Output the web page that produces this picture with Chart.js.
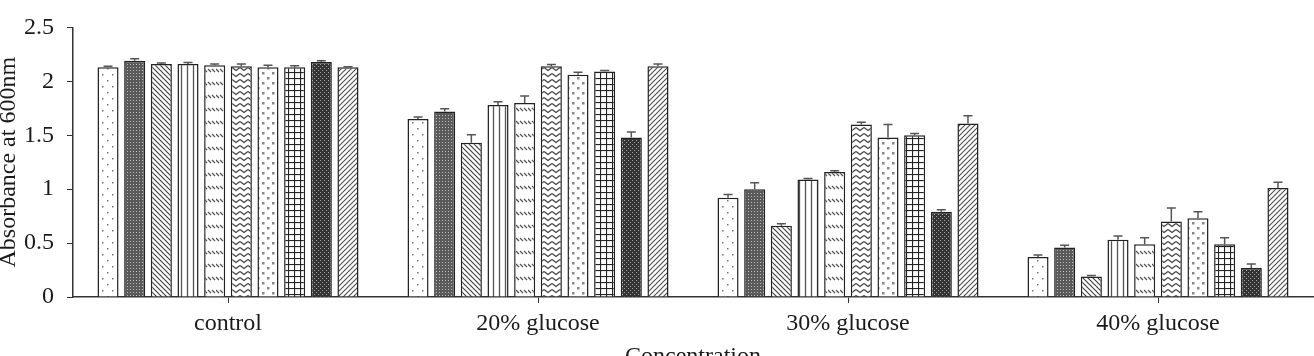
<!DOCTYPE html>
<html>
<head>
<meta charset="utf-8">
<script src="https://cdn.jsdelivr.net/npm/chart.js@4"></script>
<style>
  html, body { margin: 0; padding: 0; background: #fff; }
  #wrap { width: 1314px; height: 356px; position: relative; }
</style>
</head>
<body>
<div id="wrap"><canvas id="chart"></canvas></div>
<script>
// categories on the x axis
const categories = ['control', '20% glucose', '30% glucose', '40% glucose'];

// absorbance values, one array per bar series
const s1 = [2.13, 1.65, 0.92, 0.37];
const s2 = [2.19, 1.72, 1.00, 0.46];
const s3 = [2.16, 1.43, 0.66, 0.19];
const s4 = [2.16, 1.78, 1.09, 0.53];
const s5 = [2.15, 1.80, 1.16, 0.49];
const s6 = [2.14, 2.14, 1.60, 0.70];
const s7 = [2.13, 2.06, 1.48, 0.73];
const s8 = [2.13, 2.09, 1.50, 0.49];
const s9 = [2.18, 1.48, 0.79, 0.27];
const s10 = [2.13, 2.14, 1.61, 1.01];

// error bar sizes (upper only)
const e1 = [0.01, 0.02, 0.03, 0.02];
const e2 = [0.02, 0.025, 0.06, 0.02];
const e3 = [0.01, 0.075, 0.02, 0.01];
const e4 = [0.015, 0.03, 0.01, 0.035];
const e5 = [0.01, 0.065, 0.01, 0.06];
const e6 = [0.02, 0.015, 0.02, 0.125];
const e7 = [0.02, 0.025, 0.12, 0.06];
const e8 = [0.015, 0.01, 0.015, 0.06];
const e9 = [0.01, 0.05, 0.02, 0.035];
const e10 = [0.005, 0.02, 0.07, 0.055];

const yTicks = [0, 0.5, 1, 1.5, 2, 2.5];

const values = [s1, s2, s3, s4, s5, s6, s7, s8, s9, s10];
const errors = [e1, e2, e3, e4, e5, e6, e7, e8, e9, e10];

// small tile helpers for the hatch fills
function tile(w, h, draw) {
  const c = document.createElement('canvas');
  c.width = w; c.height = h;
  const g = c.getContext('2d');
  g.fillStyle = '#fff';
  g.fillRect(0, 0, w, h);
  draw(g, w, h);
  return g.createPattern(c, 'repeat');
}
function line(g, pts, color, lw) {
  g.strokeStyle = color; g.lineWidth = lw;
  g.beginPath();
  g.moveTo(pts[0], pts[1]);
  for (let i = 2; i < pts.length; i += 2) g.lineTo(pts[i], pts[i + 1]);
  g.stroke();
}

const patterns = [
  // sparse dots
  tile(10, 12, (g) => { g.fillStyle = '#777'; g.fillRect(2, 2, 1.5, 1.5); g.fillRect(7, 8, 1.5, 1.5); }),
  // dark fine grid
  tile(3, 3, (g) => { g.fillStyle = '#5a5a5a'; g.fillRect(0, 0, 3, 3); g.fillStyle = '#bbb'; g.fillRect(1, 1, 1, 1); }),
  // backslash lines
  tile(5, 5, (g) => { line(g, [-1, -1, 6, 6], '#444', 1.2); line(g, [-1, 4, 1, 6], '#444', 1.2); line(g, [4, -1, 6, 1], '#444', 1.2); }),
  // vertical lines
  tile(6, 4, (g) => { line(g, [1.5, 0, 1.5, 4], '#555', 1.3); }),
  // short dashed diagonals in rows
  tile(12, 13, (g) => {
    line(g, [0, 4, 3, 7], '#555', 1.3); line(g, [4, 4, 7, 7], '#555', 1.3); line(g, [8, 4, 11, 7], '#555', 1.3);
  }),
  // horizontal waves
  tile(8, 6, (g) => { line(g, [0, 1.5, 4, 4.5, 8, 1.5], '#444', 1.3); }),
  // bubbles
  tile(10, 10, (g) => { g.fillStyle = '#888'; g.fillRect(2, 2, 2.5, 2.5); g.fillRect(7, 7, 2.5, 2.5); }),
  // grid
  tile(6, 6, (g) => { line(g, [0.5, 0, 0.5, 6], '#222', 1.2); line(g, [0, 0.5, 6, 0.5], '#222', 1.2); }),
  // dark trellis
  tile(4, 4, (g) => { g.fillStyle = '#333'; g.fillRect(0, 0, 4, 4); g.fillStyle = '#aaa'; g.fillRect(0, 0, 1, 1); g.fillRect(2, 2, 1, 1); }),
  // forward slash lines
  tile(5, 5, (g) => { line(g, [-1, 6, 6, -1], '#555', 1.2); line(g, [-1, 1, 1, -1], '#555', 1.2); line(g, [4, 6, 6, 4], '#555', 1.2); })
];

const datasets = values.map((v, i) => ({
  label: 'Series ' + (i + 1),
  data: v,
  err: errors[i],
  backgroundColor: patterns[i],
  borderColor: '#222',
  borderWidth: 1.5,
  barPercentage: 0.79,
  categoryPercentage: 0.86
}));

const errorBars = {
  id: 'errorBars',
  afterDatasetsDraw(chart) {
    const ctx = chart.ctx;
    const y = chart.scales.y;
    ctx.save();
    ctx.strokeStyle = '#555';
    ctx.lineWidth = 1.5;
    chart.data.datasets.forEach((ds, i) => {
      const meta = chart.getDatasetMeta(i);
      meta.data.forEach((bar, j) => {
        const top = y.getPixelForValue(ds.data[j] + ds.err[j]);
        ctx.beginPath();
        ctx.moveTo(bar.x, bar.y);
        ctx.lineTo(bar.x, top);
        ctx.moveTo(bar.x - 4.5, top);
        ctx.lineTo(bar.x + 4.5, top);
        ctx.stroke();
      });
    });
    ctx.restore();
  }
};

const serif = 'Liberation Serif';

new Chart(document.getElementById('chart'), {
  type: 'bar',
  data: { labels: categories, datasets: datasets },
  plugins: [errorBars],
  options: {
    responsive: true,
    maintainAspectRatio: false,
    animation: false,
    layout: { padding: { top: 23, right: 1, left: 0, bottom: 0 } },
    plugins: { legend: { display: false }, tooltip: { enabled: false } },
    scales: {
      x: {
        grid: { display: true, offset: false, drawOnChartArea: false, tickLength: 6, color: '#333' },
        border: { color: '#333', width: 1.5 },
        ticks: { color: '#1a1a1a', font: { family: serif, size: 24 }, padding: 6, maxRotation: 0 },
        title: { display: true, text: 'Concentration', color: '#1a1a1a', font: { family: serif, size: 24 }, padding: { top: 0, bottom: -15 } },
        afterFit(scale) { scale.height = 59; }
      },
      y: {
        min: 0,
        max: 2.5,
        afterBuildTicks(scale) { scale.ticks = yTicks.map((v) => ({ value: v })); },
        grid: { display: true, drawOnChartArea: false, tickLength: 6, color: '#333' },
        border: { color: '#333', width: 1.5 },
        ticks: { color: '#1a1a1a', font: { family: serif, size: 24 }, padding: 13, callback: (v) => String(v) },
        title: { display: true, text: 'Absorbance at 600nm', color: '#1a1a1a', font: { family: serif, size: 24 }, padding: { top: -6, bottom: 0 } },
        afterFit(scale) { scale.width = 73; }
      }
    }
  }
});
</script>
</body>
</html>
